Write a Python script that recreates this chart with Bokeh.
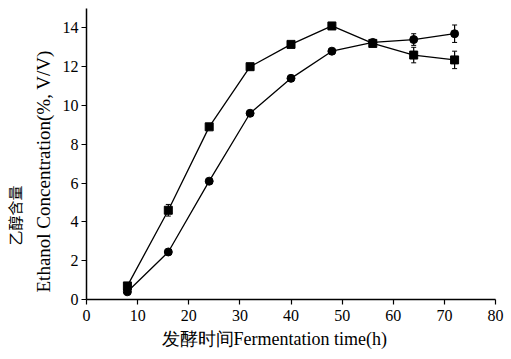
from bokeh.plotting import figure
from bokeh.models import ColumnDataSource, Whisker, Range1d, FixedTicker, Title
from bokeh.embed import file_html
from bokeh.resources import INLINE

time_h = [8, 16, 24, 32, 40, 48, 56, 64, 72]
square_vals = [0.7, 4.6, 8.9, 12.0, 13.15, 14.1, 13.2, 12.6, 12.35]
square_err = [0.15, 0.3, 0.1, 0.1, 0.1, 0.1, 0.15, 0.4, 0.45]
circle_vals = [0.4, 2.45, 6.1, 9.6, 11.4, 12.8, 13.25, 13.4, 13.7]
circle_err = [0.1, 0.1, 0.1, 0.1, 0.1, 0.1, 0.1, 0.3, 0.45]

x_ticks = [0, 10, 20, 30, 40, 50, 60, 70, 80]
y_ticks = [0, 2, 4, 6, 8, 10, 12, 14]
x_title = "发酵时间Fermentation time(h)"
y_title_cn = "乙醇含量"
y_title_en = "Ethanol Concentration(%, V/V)"

p = figure(width=511, height=359, output_backend="svg", toolbar_location=None,
           x_range=Range1d(0, 80), y_range=Range1d(0, 15),
           min_border_left=86, min_border_right=16, min_border_top=8, min_border_bottom=60)
p.outline_line_color = None
p.xgrid.visible = False
p.ygrid.visible = False

sq_src = ColumnDataSource(dict(x=time_h, y=square_vals,
                               lo=[v - e for v, e in zip(square_vals, square_err)],
                               hi=[v + e for v, e in zip(square_vals, square_err)]))
ci_src = ColumnDataSource(dict(x=time_h, y=circle_vals,
                               lo=[v - e for v, e in zip(circle_vals, circle_err)],
                               hi=[v + e for v, e in zip(circle_vals, circle_err)]))

for src in (sq_src, ci_src):
    w = Whisker(source=src, base="x", lower="lo", upper="hi", line_color="black", line_width=1.2)
    w.upper_head.size = 5
    w.lower_head.size = 5
    w.upper_head.line_color = "black"
    w.lower_head.line_color = "black"
    p.add_layout(w)

p.line("x", "y", source=sq_src, line_color="black", line_width=1.3)
p.scatter("x", "y", source=sq_src, marker="square", size=8, fill_color="black", line_color="black")
p.line("x", "y", source=ci_src, line_color="black", line_width=1.3)
p.scatter("x", "y", source=ci_src, marker="circle", size=8, fill_color="black", line_color="black")

for ax in (p.xaxis, p.yaxis):
    ax.axis_line_color = "black"
    ax.axis_line_width = 1.5
    ax.major_tick_line_color = "black"
    ax.major_tick_line_width = 1.2
    ax.major_tick_out = 5
    ax.major_tick_in = 0
    ax.minor_tick_line_color = None
    ax.major_label_text_font = "Liberation Serif"
    ax.major_label_text_font_size = "16px"
    ax.major_label_text_color = "black"
p.yaxis.major_label_standoff = 3

p.xaxis.ticker = FixedTicker(ticks=x_ticks)
p.yaxis.ticker = FixedTicker(ticks=y_ticks)

# axis titles as side titles so they can be shifted along the axis
p.add_layout(Title(text=x_title, align="left", offset=75, standoff=6,
                   text_font="Liberation Serif", text_font_size="18px",
                   text_font_style="normal", text_color="black"), "below")
p.add_layout(Title(text=y_title_en, align="left", offset=7, standoff=12,
                   text_font="Liberation Serif", text_font_size="19px",
                   text_font_style="normal", text_color="black"), "left")
p.add_layout(Title(text=y_title_cn, align="left", offset=54, standoff=0,
                   text_font="Noto Sans CJK SC", text_font_size="15px",
                   text_font_style="normal", text_color="black"), "left")

open("out.html", "w").write(file_html(p, INLINE))
